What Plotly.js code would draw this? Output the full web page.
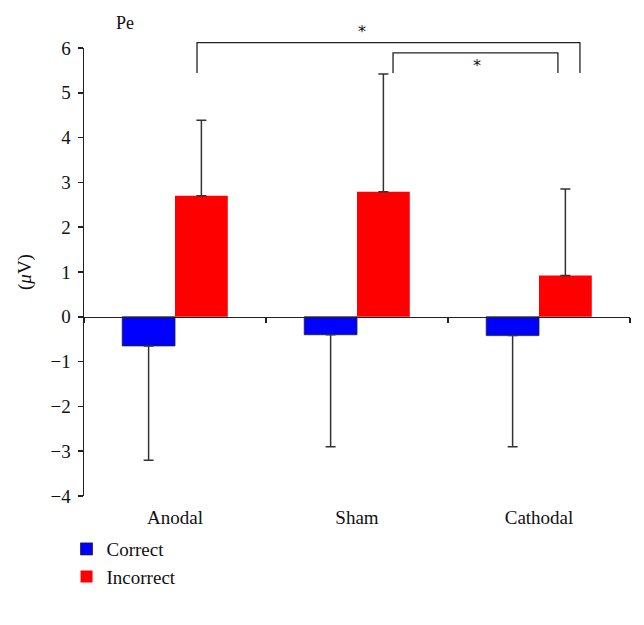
<!DOCTYPE html>
<html><head><meta charset="utf-8">
<script src="https://cdn.plot.ly/plotly-3.0.1.min.js"></script>
<style>body{margin:0;background:#fff}#plot{width:644px;height:625px}</style>
</head><body><div id="plot"></div>
<script>
const categories = ["Anodal", "Sham", "Cathodal"];
const correctMean = [-0.65, -0.40, -0.42];
const correctErr = [2.55, 2.50, 2.48];
const incorrectMean = [2.70, 2.79, 0.92];
const incorrectErr = [1.69, 2.63, 1.93];
const seriesNames = ["Correct", "Incorrect"];
const yTicks = [-4, -3, -2, -1, 0, 1, 2, 3, 4, 5, 6];
const yTickText = ["\u22124", "\u22123", "\u22122", "\u22121", "0", "1", "2", "3", "4", "5", "6"];
const yRange = [-4, 6];

const serif = "Liberation Serif, Times New Roman, serif";
const py = v => (v - yRange[0]) / (yRange[1] - yRange[0]);

const errStyle = {type: 'data', color: '#333', thickness: 1.5, width: 5};

const traces = [
  {type: 'bar', name: seriesNames[0], x: categories, y: correctMean,
   marker: {color: '#0000ff', line: {color: '#222', width: 0.8}},
   error_y: Object.assign({array: correctErr.map(e => 0), arrayminus: correctErr, symmetric: false}, errStyle)},
  {type: 'bar', name: seriesNames[1], x: categories, y: incorrectMean,
   marker: {color: '#ff0000', line: {color: '#ff0000', width: 0}},
   error_y: Object.assign({array: incorrectErr, arrayminus: incorrectErr.map(e => 0), symmetric: false}, errStyle)}
];

const layout = {
  width: 644, height: 625,
  margin: {l: 84, r: 14, t: 48, b: 129},
  paper_bgcolor: '#fff', plot_bgcolor: '#fff',
  barmode: 'group', bargap: 0.42, bargroupgap: 0,
  font: {family: serif, size: 18, color: '#111'},
  showlegend: true,
  legend: {x: -0.032, y: -0.076, xanchor: 'left', yanchor: 'top', font: {family: serif, size: 19, color: '#111'},
           tracegroupgap: 0, itemwidth: 30, bgcolor: 'rgba(0,0,0,0)'},
  xaxis: {type: 'category', anchor: 'free', position: 0.4, showline: true, linecolor: '#222', linewidth: 1.5,
          ticks: 'outside', tickson: 'boundaries', ticklen: 5, tickcolor: '#222', tickwidth: 1.5,
          showgrid: false, zeroline: false, range: [-0.5, 2.5],
          tickfont: {family: serif, size: 19, color: '#111'}, ticklabelstandoff: 183},
  yaxis: {range: yRange, tickvals: yTicks, ticktext: yTickText, showline: true, linecolor: '#222', linewidth: 1.5,
          ticks: 'outside', ticklen: 5, tickcolor: '#222', tickwidth: 1.5, showgrid: false, zeroline: false,
          tickfont: {family: serif, size: 19, color: '#111'}, ticklabelstandoff: 3,
          title: {text: '(<i>\u03bc</i>V)', standoff: 14, font: {family: serif, size: 19, color: '#111'}}},
  shapes: [
    {type: 'path', xref: 'x', yref: 'paper', path: `M 0.121 ${py(5.44)} L 0.121 ${py(6.12)} L 2.225 ${py(6.12)} L 2.225 ${py(5.44)}`, line: {color: '#222', width: 1.3}},
    {type: 'path', xref: 'x', yref: 'paper', path: `M 1.198 ${py(5.44)} L 1.198 ${py(5.89)} L 2.104 ${py(5.89)} L 2.104 ${py(5.44)}`, line: {color: '#222', width: 1.3}}
  ],
  annotations: [
    {text: 'Pe', xref: 'paper', yref: 'paper', x: 0.075, y: 1.055, xanchor: 'center', yanchor: 'middle', showarrow: false, font: {family: serif, size: 18, color: '#111'}},
    {text: '*', xref: 'x', yref: 'paper', x: 1.03, y: py(6.36), xanchor: 'center', yanchor: 'middle', showarrow: false, font: {family: 'DejaVu Sans', size: 16, color: '#111'}},
    {text: '*', xref: 'x', yref: 'paper', x: 1.66, y: py(5.62), xanchor: 'center', yanchor: 'middle', showarrow: false, font: {family: 'DejaVu Sans', size: 16, color: '#111'}}
  ]
};

Plotly.newPlot('plot', traces, layout, {displayModeBar: false, staticPlot: true});
</script></body></html>
